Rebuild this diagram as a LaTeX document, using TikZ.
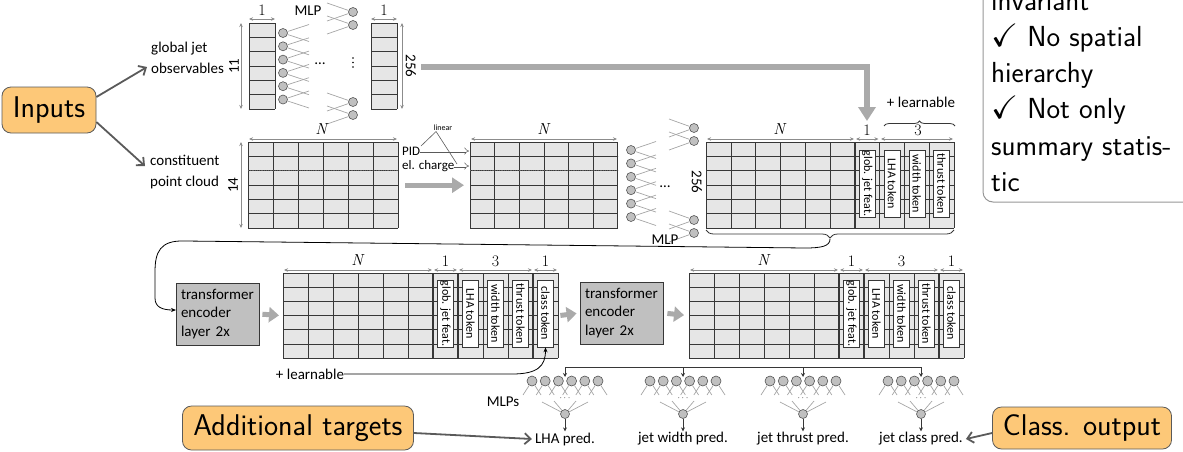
\documentclass[tikz,border=0pt]{standalone}
\usepackage{fontspec}
\usepackage{amssymb}
\newfontfamily\cali{Carlito}
\usetikzlibrary{arrows.meta,decorations.pathreplacing,calc}
\definecolor{boxorange}{RGB}{253,200,120}
\definecolor{cellfill}{RGB}{230,230,230}
\definecolor{gridc}{RGB}{55,55,55}
\definecolor{dimc}{RGB}{140,140,140}
\definecolor{neuronfill}{RGB}{192,192,192}
\definecolor{neurondraw}{RGB}{85,85,85}
\definecolor{sync}{RGB}{165,165,165}
\definecolor{bigarrow}{RGB}{170,170,170}
\definecolor{encfill}{RGB}{192,192,192}
\definecolor{darkarrow}{RGB}{90,90,90}
\definecolor{boxline}{RGB}{150,150,150}

\newcommand\mgrid[6]{%
  \fill[cellfill] (#1,#2) rectangle ({#1+#3*#4},{#2+#5*#6});
  \foreach \k in {0,...,#4}{\draw[gridline] ({#1+\k*#3},#2) -- ({#1+\k*#3},{#2+#5*#6});}
  \foreach \k in {0,...,#6}{\draw[gridline] (#1,{#2+\k*#5}) -- ({#1+#3*#4},{#2+\k*#5});}
}
\newcommand\chk{\scalebox{1.12}{\checkmark}}

\tikzset{
  gridline/.style={draw=gridc, line width=0.6pt},
  thicksep/.style={draw=gridc, line width=1.4pt},
  lab/.style={font=\fontsize{15}{17}\selectfont\cali, inner sep=0pt},
  labtwo/.style={font=\fontsize{15}{21.5}\selectfont\cali, inner sep=0pt, align=left, anchor=west},
  labs/.style={font=\fontsize{13}{14}\selectfont\cali, inner sep=0pt},
  tok/.style={draw=gridc, fill=white, line width=0.6pt, rotate=-90, minimum width=67pt, minimum height=16pt, inner sep=0pt, font=\fontsize{12}{12}\selectfont\cali},
  dimlab/.style={font=\fontsize{16}{16}\selectfont\rmfamily, inner sep=0pt},
  dimarr/.style={draw=dimc, line width=0.7pt, <->, >={Stealth[length=4pt,width=3.5pt]}},
  neuron/.style={circle, draw=neurondraw, fill=neuronfill, minimum size=9pt, inner sep=0pt, line width=0.6pt},
  syn/.style={draw=sync, line width=0.7pt},
  bigarr/.style={draw=bigarrow, line width=6pt, -{Triangle[length=14pt,width=17pt]}},
  midarr/.style={draw=bigarrow, line width=5pt, -{Triangle[length=12pt,width=15pt]}},
  smarr/.style={draw=bigarrow, line width=5pt, -{Triangle[length=10pt,width=15pt]}},
  inarr/.style={draw=darkarrow, line width=1.8pt, -{Straight Barb[length=6pt,width=11pt]}},
  thinarr/.style={draw=black, line width=0.8pt, -{Stealth[length=5pt,width=4pt]}},
  distline/.style={draw=gridc, line width=1pt},
  distarr/.style={draw=gridc, line width=0.8pt, -{Stealth[length=4pt,width=4pt]}},
  obox/.style={draw=darkarrow, fill=boxorange, rounded corners=9pt, line width=0.8pt, font=\fontsize{30}{32}\selectfont\sffamily, inner sep=0pt},
  enc/.style={draw=gridc, fill=encfill, line width=0.8pt, align=left, font=\fontsize{15}{18.5}\selectfont\cali, inner xsep=5pt, inner ysep=3pt, text width=73pt, minimum height=62pt},
  mbox/.style={inner sep=0pt, draw=none, anchor=north west},
  rowdot/.style={draw=gridc, line width=1.3pt, dash pattern=on 1pt off 0.8pt},
  rowdot2/.style={draw=gridc!80, line width=1.1pt, dash pattern=on 1pt off 0.8pt},
  infobox/.style={draw=boxline, line width=1pt, rounded corners=10pt},
  rbtext/.style={font=\fontsize{29}{31}\selectfont\sffamily, inner sep=0pt, anchor=base west},
  hollow/.style={draw=darkarrow, line width=0.5pt, double=white, double distance=2pt, -{Implies}},
  linleg/.style={draw=darkarrow, line width=0.6pt},
  bracedec/.style={decorate, decoration={brace, amplitude=#1}, draw=gridc, line width=0.8pt},
  bracedec/.default=5pt,
  vdot/.style={fill=black}
}

\begin{document}
\begin{tikzpicture}[x=1pt,y=-1pt]
\useasboundingbox (0,0) rectangle (1183,451);

%--- info box (top right)
\draw[infobox] (983,-30) rectangle (1220,202);
\foreach \yb/\tx [count=\j] in {10/invariant,46.5/\chk\ No spatial,82.5/hierarchy,118.5/\chk\ Not only,155/summary statis-,191/tic}
  {\node[rbtext] (rb\j) at (991,\yb) {\tx};}

%--- Inputs
\node[obox, minimum width=94pt, minimum height=46pt] (inputs) at (49,110) {Inputs};

%--- global jet observables
\node[labtwo] (gjo) at (151,58) {global jet\\observables};
\draw[inarr] ($(inputs.east)+(0,-13)$) -- ($(gjo.west)+(-4,9)$);
\node[lab, rotate=90] (n11) at (234,66) {11};
\coordinate (v11a) at (241,23); \coordinate (v11b) at (241,109);
\draw[dimarr] (v11a) -- (v11b);
\mgrid{249}{23}{26}{1}{14.33}{6}
\coordinate (h1a) at (249,19); \coordinate (h1b) at (275,19);
\draw[dimarr] (h1a) -- (h1b);
\node[dimlab] (one1) at (262,10) {1};
\node[lab] (mlpA) at (308,11) {MLP};
\foreach \i in {0,...,5}{
  \pgfmathsetmacro\yy{33+13.3*\i}
  \node[neuron] (ga\i) at (283,\yy) {};
  \draw[syn] (ga\i) -- (309,{\yy-8.5});
  \draw[syn] (ga\i) -- (309,{\yy+8.5});
}
\node[lab] (dotsA) at (320,64) {\ldots};
\foreach \d in {58,62.5,67}{\fill[vdot] (353,\d) circle (0.8pt);}
\foreach \yy [count=\j] in {12,25,102,115}{
  \node[neuron] (gb\j) at (353,\yy) {};
  \draw[syn] (327,{\yy-9}) -- (gb\j);
  \draw[syn] (327,{\yy+9}) -- (gb\j);
}
\mgrid{371}{23}{26}{1}{14.33}{6}
\coordinate (h2a) at (371,19); \coordinate (h2b) at (397,19);
\draw[dimarr] (h2a) -- (h2b);
\node[dimlab] (one2) at (384,10) {1};
\coordinate (v256a) at (402,23); \coordinate (v256b) at (402,109);
\draw[dimarr] (v256a) -- (v256b);
\node[lab, rotate=-90] (n256a) at (411,66) {256};

%--- big arrow to glob. jet feat.
\coordinate (gA) at (421,67); \coordinate (gB) at (867,121);
\draw[bigarr] (gA) -| (gB);
\node[lab] (plA) at (921,102) {+ learnable};
\coordinate (brA) at (884,126); \coordinate (brB) at (955,126);
\draw[bracedec] (brA) -- (brB);

%--- constituent point cloud
\node[labtwo] (cpc) at (150,172) {constituent\\point cloud};
\draw[inarr] ($(inputs.east)+(0,12)$) -- ($(cpc.west)+(-5,-6)$);
\node[lab, rotate=90] (n14) at (233,185) {14};
\coordinate (v14a) at (241,142); \coordinate (v14b) at (241,228);
\draw[dimarr] (v14a) -- (v14b);

% matrix 1
\mgrid{248}{142}{25}{6}{14.33}{6}
\draw[rowdot] (248,156.33) -- (398,156.33);
\draw[rowdot2] (248,170.67) -- (398,170.67);
\node[mbox, minimum width=150pt, minimum height=86pt] (m1) at (248,142) {};
\coordinate (d1a) at (249,139); \coordinate (d1b) at (397,139);
\draw[dimarr] (d1a) -- (d1b);
\node[dimlab] (N1) at (322,129) {\textit{N}};

% PID / charge
\node[labs, anchor=west] (pid) at (402,151) {PID};
\node[labs, anchor=west] (elc) at (402,166) {el. charge};
\node[font=\fontsize{8}{9}\selectfont\cali, inner sep=0.5pt] (lin) at (443,128) {linear};
\coordinate (pidE) at (469,151); \coordinate (elcE) at (469,166);
\draw[hollow] (pid.east) -- (pidE);
\draw[hollow] (elc.east) -- (elcE);
\coordinate (linA) at ($(lin.south west)+(3,0)$);
\coordinate (linL) at (421,146); \coordinate (linR) at (457,164);
\draw[linleg] (linA) -- (linL);
\draw[linleg] (linA) -- (linR);

% matrix 2
\mgrid{470}{142}{24.6}{6}{14.33}{6}
\draw[rowdot] (470,156.33) -- (617.6,156.33);
\draw[rowdot2] (470,170.67) -- (617.6,170.67);
\node[mbox, minimum width=147.6pt, minimum height=86pt] (m2) at (470,142) {};
\coordinate (d2a) at (471,139); \coordinate (d2b) at (617,139);
\draw[dimarr] (d2a) -- (d2b);
\node[dimlab] (N2) at (544,129) {\textit{N}};
\draw[midarr, shorten <=7pt, shorten >=6pt] (m1.east) -- (m2.west);

% MLP row 2
\foreach \i in {0,...,5}{
  \pgfmathsetmacro\yy{150+13.4*\i}
  \node[neuron] (ma\i) at (631,\yy) {};
  \draw[syn] (ma\i) -- (656,{\yy-8.5});
  \draw[syn] (ma\i) -- (656,{\yy+8.5});
}
\node[lab] (dotsB) at (665,187) {\ldots};
\foreach \yy [count=\j] in {128,141,220,233}{
  \node[neuron] (mb\j) at (694,\yy) {};
  \draw[syn] (669,{\yy-9}) -- (mb\j);
  \draw[syn] (669,{\yy+9}) -- (mb\j);
}
\node[lab, rotate=-90] (n256b) at (697,182) {256};
\node[lab] (mlpB) at (665,240) {MLP};

% matrix 3
\mgrid{706}{142}{24.8}{10}{14.33}{6}
\draw[thicksep] (854.8,142) -- (854.8,228);
\draw[thicksep] (879.6,142) -- (879.6,228);
\node[mbox, minimum width=248pt, minimum height=86pt] (m3) at (706,142) {};
\foreach \xx/\tx [count=\j] in {867.2/glob. jet feat.,892/LHA token,916.8/width token,941.6/thrust token}
  {\node[tok] (tc\j) at (\xx,183.5) {\tx};}
\coordinate (d3a) at (707,139); \coordinate (d3b) at (854,139);
\draw[dimarr] (d3a) -- (d3b);
\node[dimlab] (N3) at (780,129) {\textit{N}};
\coordinate (d3c) at (856,139); \coordinate (d3d) at (878.5,139);
\draw[dimarr] (d3c) -- (d3d);
\node[dimlab] (one3) at (867,130) {1};
\coordinate (d3e) at (881,139); \coordinate (d3f) at (953,139);
\draw[dimarr] (d3e) -- (d3f);
\node[dimlab] (three3) at (918,130) {3};
\coordinate (bbA) at (954,230); \coordinate (bbB) at (706,230);
\draw[bracedec=8pt] (bbA) -- (bbB);
\coordinate (btip) at (830,239);

%--- row 3
\node[enc] (enc1) at (217.5,314) {transformer\\encoder\\layer 2x};
\coordinate (enc1in) at (176,310);
\draw[thinarr] (btip) .. controls (830,246) and (822,248) .. (805,248) -- (185,241) .. controls (160,240) and (155,252) .. (155,272) -- (155,298) .. controls (155,307) and (162,310) .. (enc1in);

% matrix 4
\mgrid{283}{273}{25}{11}{14.17}{6}
\foreach \xx in {433,458,533}{\draw[thicksep] (\xx,273) -- (\xx,358);}
\node[mbox, minimum width=275pt, minimum height=85pt] (m4) at (283,273) {};
\foreach \xx/\tx [count=\j] in {445.5/glob. jet feat.,470.5/LHA token,495.5/width token,520.5/thrust token,545.5/class token}
  {\node[tok] (ta\j) at (\xx,313.5) {\tx};}
\coordinate (d4a) at (284,270); \coordinate (d4b) at (432,270);
\draw[dimarr] (d4a) -- (d4b);
\node[dimlab] (N4) at (358,260) {\textit{N}};
\coordinate (d4c) at (434,270); \coordinate (d4d) at (457,270);
\draw[dimarr] (d4c) -- (d4d);
\node[dimlab] (one4) at (445.5,261) {1};
\coordinate (d4e) at (459,270); \coordinate (d4f) at (532,270);
\draw[dimarr] (d4e) -- (d4f);
\node[dimlab] (three4) at (495.5,261) {3};
\coordinate (d4g) at (534,270); \coordinate (d4h) at (557,270);
\draw[dimarr] (d4g) -- (d4h);
\node[dimlab] (onec4) at (545.5,261) {1};

\node[lab] (plB) at (310,374) {+ learnable};
\draw[thinarr] (plB.east) -- (512,374) .. controls (538,374) and (545.5,366) .. (ta5.east);

\node[enc] (enc2) at (621.5,313) {transformer\\encoder\\layer 2x};
\draw[smarr, shorten <=3pt, shorten >=4pt] (enc1.east) -- (m4.west);
\draw[smarr, shorten <=2pt, shorten >=3pt] (m4.east) -- (enc2.west);

% matrix 5
\mgrid{689}{273}{25}{11}{14.17}{6}
\foreach \xx in {839,864,939}{\draw[thicksep] (\xx,273) -- (\xx,358);}
\node[mbox, minimum width=275pt, minimum height=85pt] (m5) at (689,273) {};
\foreach \xx/\tx [count=\j] in {851.5/glob. jet feat.,876.5/LHA token,901.5/width token,926.5/thrust token,951.5/class token}
  {\node[tok] (tb\j) at (\xx,313.5) {\tx};}
\coordinate (d5a) at (690,270); \coordinate (d5b) at (838,270);
\draw[dimarr] (d5a) -- (d5b);
\node[dimlab] (N5) at (764,260) {\textit{N}};
\coordinate (d5c) at (840,270); \coordinate (d5d) at (863,270);
\draw[dimarr] (d5c) -- (d5d);
\node[dimlab] (one5) at (851.5,261) {1};
\coordinate (d5e) at (865,270); \coordinate (d5f) at (938,270);
\draw[dimarr] (d5e) -- (d5f);
\node[dimlab] (three5) at (901.5,261) {3};
\coordinate (d5g) at (940,270); \coordinate (d5h) at (963,270);
\draw[dimarr] (d5g) -- (d5h);
\node[dimlab] (onec5) at (951.5,261) {1};
\draw[smarr, shorten <=4pt, shorten >=5pt] (enc2.east) -- (m5.west);

%--- row 4: MLP heads
\coordinate (dlA) at (565,367); \coordinate (dlB) at (921,367);
\draw[distline] (dlA) -- (dlB);
\foreach \c/\tx [count=\g] in {565/LHA pred.,683/jet width pred.,803/jet thrust pred.,921/jet class pred.}{
  \coordinate (dt\g) at (\c,367);
  \coordinate (di\g) at (\c,377);
  \draw[distarr] (dt\g) -- (di\g);
  \foreach \k in {0,...,5}{
    \pgfmathsetmacro\xx{\c-33+13.2*\k}
    \node[neuron, minimum size=10pt] (h\g-\k) at (\xx,381) {};
    \draw[syn] (h\g-\k) -- ({\xx-9},395);
    \draw[syn] (h\g-\k) -- ({\xx+9},395);
  }
  \node[font=\fontsize{9}{9}\selectfont, inner sep=0pt] (cd\g) at (\c,398) {$\cdots$};
  \node[neuron] (o\g) at (\c,414) {};
  \draw[syn] ({\c-23},402) -- (o\g);
  \draw[syn] ({\c-11},401) -- (o\g);
  \draw[syn] ({\c+11},401) -- (o\g);
  \draw[syn] ({\c+23},402) -- (o\g);
  \node[lab, inner sep=1pt] (p\g) at (\c,439) {\tx};
  \draw[distarr] (o\g) -- (p\g.north);
}
\node[lab] (mlps) at (503,402) {MLPs};

%--- Additional targets / Class. output
\node[obox, minimum width=231pt, minimum height=44pt] (addt) at (298,428) {Additional targets};
\node[obox, minimum width=179pt, minimum height=42pt] (clo) at (1082,428) {Class. output};
\draw[inarr] ($(addt.east)+(0,5)$) -- ($(p1.west)+(-2,0)$);
\draw[inarr] ($(clo.west)+(0,5)$) -- ($(p4.east)+(2,0)$);

\end{tikzpicture}
\end{document}
